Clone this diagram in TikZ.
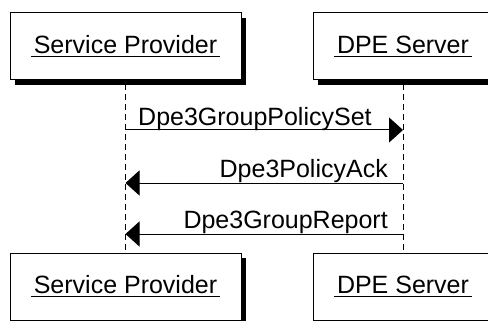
\documentclass[tikz,border=0pt]{standalone}
\usepackage{fontspec}
\setmainfont{Liberation Sans}
\usetikzlibrary{arrows.meta,shadows}
\newcommand{\ulbox}[1]{\setbox0\hbox{#1}\rlap{\kern-3pt\rule[-3.5pt]{\dimexpr\wd0+6pt\relax}{1pt}}\box0}
\begin{document}
\begin{tikzpicture}[x=1pt,y=-1pt,
  actor/.style={draw=black, line width=1pt, fill=white, minimum height=67pt,
    inner sep=0pt, font=\fontsize{25}{30}\selectfont,
    drop shadow={shadow xshift=5pt, shadow yshift=-5pt, fill=black, opacity=1}},
  lifeline/.style={line width=1pt, dash pattern=on 6pt off 4pt},
  msg/.style={line width=1pt, -{Triangle[length=14pt,width=25pt]}},
  msglabel/.style={inner sep=0pt, font=\fontsize{25}{30}\selectfont}]
\useasboundingbox (0,0) rectangle (488,321);
\clip (0,0) rectangle (488,321);
\fill[white] (0,0) rectangle (488,321);
% lifelines
\coordinate (L1) at (125.5,84);
\coordinate (L2) at (125.5,253);
\coordinate (R1) at (403,84);
\coordinate (R2) at (403,253);
\draw[lifeline] (L1) -- (L2);
\draw[lifeline] (R1) -- (R2);
% actors
\node[actor, minimum width=231pt] (tl) at (125.5,46.5) {\ulbox{Service Provider}};
\node[actor, minimum width=180pt] (tr) at (403,46.5) {\ulbox{DPE Server}};
\node[actor, minimum width=231pt] (bl) at (125.5,286.5) {\ulbox{Service Provider}};
\node[actor, minimum width=180pt] (br) at (403,286.5) {\ulbox{DPE Server}};
% message endpoints
\coordinate (m1a) at (125.5,130);
\coordinate (m1b) at (403,130);
\coordinate (m2a) at (403,183);
\coordinate (m2b) at (125.5,183);
\coordinate (m3a) at (403,234);
\coordinate (m3b) at (125.5,234);
\draw[msg] (m1a) -- (m1b);
\draw[msg] (m2a) -- (m2b);
\draw[msg] (m3a) -- (m3b);
\node[msglabel, anchor=base west] (t1) at (138,125) {Dpe3GroupPolicySet};
\node[msglabel, anchor=base east] (t2) at (388,177) {Dpe3PolicyAck};
\node[msglabel, anchor=base east] (t3) at (388,228) {Dpe3GroupReport};
\end{tikzpicture}
\end{document}
